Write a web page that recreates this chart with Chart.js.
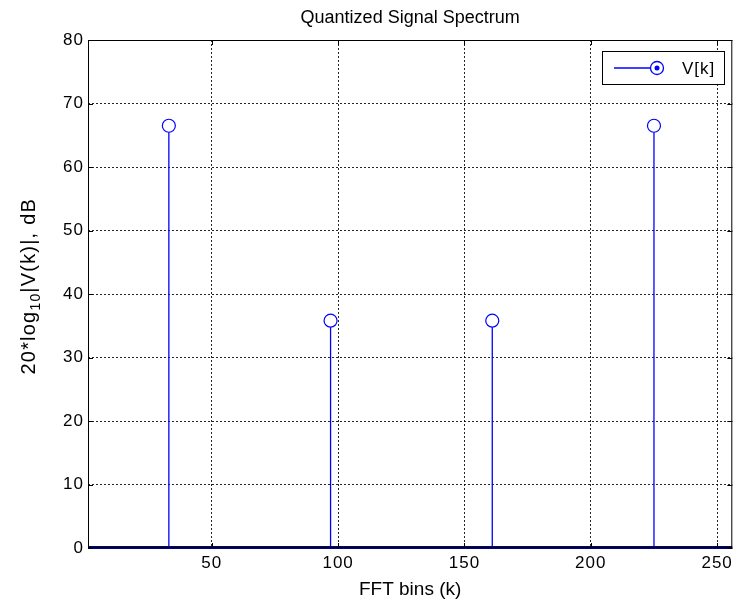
<!DOCTYPE html>
<html>
<head>
<meta charset="utf-8">
<script src="https://cdn.jsdelivr.net/npm/chart.js@4"></script>
<style>
  body { margin: 0; background: #fff; }
  canvas { display: block; }
</style>
</head>
<body>
<canvas id="spectrum" width="740" height="600"></canvas>
<script>
// --- data ---
const bins = [33, 97, 161, 225];             // FFT bin index k
const magnitudes = [66.5, 35.8, 35.8, 66.5]; // 20*log10|V(k)| in dB
const xTicks = [50, 100, 150, 200, 250];
const yTicks = [0, 10, 20, 30, 40, 50, 60, 70, 80];

const FONT = '"Liberation Sans", Arial, sans-serif';
const STEM_BLUE = '#0000ff';

// stems, baseline, box, inner ticks, titles and legend (MATLAB look)
const stemPlugin = {
  id: 'stems',
  beforeDraw(chart) {
    // MATLAB text is rendered a bit wider than Arial
    chart.ctx.letterSpacing = '1px';
  },
  beforeDatasetsDraw(chart) {
    const { ctx, chartArea: a, scales: { x, y } } = chart;
    const y0 = y.getPixelForValue(0);
    ctx.save();
    ctx.setLineDash([]);
    ctx.lineWidth = 1.3;
    ctx.strokeStyle = STEM_BLUE;
    bins.forEach((k, i) => {
      const px = x.getPixelForValue(k);
      const py = y.getPixelForValue(magnitudes[i]) + 6.5;
      ctx.beginPath();
      ctx.moveTo(px, y0);
      ctx.lineTo(px, py);
      ctx.stroke();
    });
    // baseline at 0 dB
    ctx.strokeStyle = '#00008b';
    ctx.lineWidth = 3;
    ctx.beginPath();
    ctx.moveTo(a.left, y0 - 0.5);
    ctx.lineTo(a.right, y0 - 0.5);
    ctx.stroke();
    ctx.restore();
  },
  afterDraw(chart) {
    const { ctx, chartArea: a, scales: { x, y } } = chart;
    ctx.save();
    ctx.letterSpacing = '0px';

    // axes box
    ctx.strokeStyle = '#000';
    ctx.lineWidth = 1;
    ctx.strokeRect(a.left + 0.5, a.top + 0.5, a.right - a.left - 1, a.bottom - a.top - 1);

    // inner tick marks on all four sides
    const t = 5;
    ctx.beginPath();
    xTicks.forEach(v => {
      const px = Math.round(x.getPixelForValue(v)) + 0.5;
      ctx.moveTo(px, a.bottom); ctx.lineTo(px, a.bottom - t);
      ctx.moveTo(px, a.top); ctx.lineTo(px, a.top + t);
    });
    yTicks.forEach(v => {
      const py = Math.round(y.getPixelForValue(v)) + 0.5;
      ctx.moveTo(a.left, py); ctx.lineTo(a.left + t, py);
      ctx.moveTo(a.right, py); ctx.lineTo(a.right - t, py);
    });
    ctx.stroke();

    // title
    ctx.fillStyle = '#000';
    ctx.textAlign = 'center';
    ctx.textBaseline = 'alphabetic';
    ctx.font = '18px ' + FONT;
    ctx.fillText('Quantized Signal Spectrum', (a.left + a.right) / 2, 23);

    // x axis title
    ctx.font = '19px ' + FONT;
    ctx.fillText('FFT bins (k)', (a.left + a.right) / 2, 595);

    // y axis title with subscript, its end sits at y = 198
    ctx.save();
    ctx.letterSpacing = '1.2px';
    ctx.translate(35, 198);
    ctx.rotate(-Math.PI / 2);
    ctx.textAlign = 'left';
    const p1 = '20*log', p2 = '10', p3 = '|V(k)|, dB';
    ctx.font = '20px ' + FONT;
    const w1 = ctx.measureText(p1).width, w3 = ctx.measureText(p3).width;
    ctx.font = '14px ' + FONT;
    const w2 = ctx.measureText(p2).width;
    let cx = -(w1 + w2 + w3);
    ctx.font = '20px ' + FONT;
    ctx.fillText(p1, cx, 0); cx += w1;
    ctx.font = '14px ' + FONT;
    ctx.fillText(p2, cx, 5); cx += w2;
    ctx.font = '20px ' + FONT;
    ctx.fillText(p3, cx, 0);
    ctx.restore();

    // legend
    const lx = 602, ly = 51, lw = 122, lh = 33;
    ctx.fillStyle = '#fff';
    ctx.fillRect(lx, ly, lw, lh);
    ctx.strokeStyle = '#000';
    ctx.lineWidth = 1;
    ctx.strokeRect(lx + 0.5, ly + 0.5, lw, lh);
    const my = ly + lh / 2 + 0.5;
    ctx.strokeStyle = STEM_BLUE;
    ctx.lineWidth = 1.3;
    ctx.beginPath();
    ctx.moveTo(614, my); ctx.lineTo(657, my);
    ctx.stroke();
    ctx.beginPath();
    ctx.arc(657, my, 6.5, 0, Math.PI * 2);
    ctx.fillStyle = '#fff';
    ctx.fill();
    ctx.stroke();
    ctx.beginPath();
    ctx.arc(657, my, 2.5, 0, Math.PI * 2);
    ctx.fillStyle = STEM_BLUE;
    ctx.fill();
    ctx.fillStyle = '#000';
    ctx.textAlign = 'left';
    ctx.textBaseline = 'middle';
    ctx.letterSpacing = '1px';
    ctx.font = '17px ' + FONT;
    ctx.fillText('V[k]', 682, my + 1);

    ctx.restore();
  }
};

const gridStyle = { color: 'rgba(0,0,0,0.85)', lineWidth: 1, drawTicks: false };
const tickFont = { family: FONT, size: 17 };

new Chart(document.getElementById('spectrum'), {
  type: 'scatter',
  data: {
    datasets: [{
      label: 'V[k]',
      data: bins.map((k, i) => ({ x: k, y: magnitudes[i] })),
      pointStyle: 'circle',
      pointRadius: 6.5,
      pointHoverRadius: 6.5,
      pointBorderWidth: 1.2,
      borderColor: STEM_BLUE,
      backgroundColor: 'rgba(0,0,0,0)',
      showLine: false
    }]
  },
  options: {
    responsive: false,
    animation: false,
    layout: { padding: { top: 40, right: 7, left: 0, bottom: 0 } },
    plugins: { legend: { display: false }, title: { display: false }, tooltip: { enabled: false } },
    scales: {
      x: {
        type: 'linear',
        min: 1,
        max: 256,
        afterBuildTicks: s => { s.ticks = xTicks.map(v => ({ value: v })); },
        afterFit: s => { s.height = 52; },
        grid: gridStyle,
        border: { display: false, dash: [2, 2] },
        ticks: { font: tickFont, color: '#000', padding: 5, maxRotation: 0 }
      },
      y: {
        min: 0,
        max: 80,
        afterBuildTicks: s => { s.ticks = yTicks.map(v => ({ value: v })); },
        afterFit: s => { s.width = 88; },
        grid: gridStyle,
        border: { display: false, dash: [2, 2] },
        ticks: { font: tickFont, color: '#000', padding: 4 }
      }
    }
  },
  plugins: [stemPlugin]
});
</script>
</body>
</html>
